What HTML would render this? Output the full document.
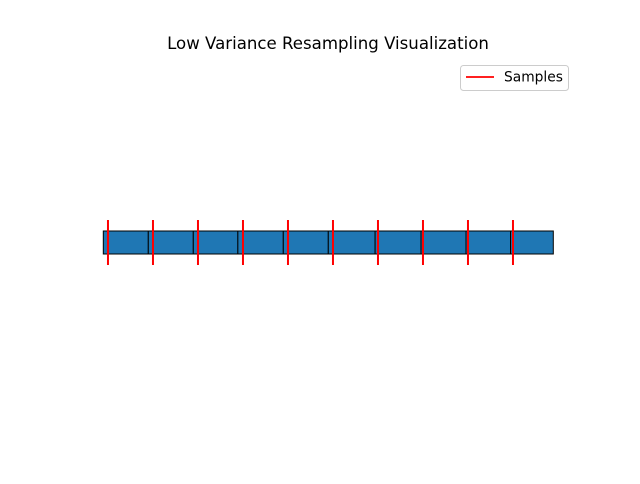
<!DOCTYPE html>
<html><head><meta charset="utf-8"><style>
body{margin:0;background:#fff;font-family:"DejaVu Sans","Liberation Sans",sans-serif}
</style></head><body>
<svg id="chart" width="640" height="480">
<text x="328" y="49" text-anchor="middle" font-size="16.6" fill="#000">Low Variance Resampling Visualization</text>
<g id="bars"></g><g id="samples"></g>
<g>
<rect x="460.5" y="65.5" width="108" height="25" rx="3" fill="#fff" stroke="#ccc"/>
<line x1="466" y1="77" x2="494" y2="77" stroke="red" stroke-width="1.8"/>
<text x="504" y="81.5" font-size="13.8" fill="#000">Samples</text>
</g>
</svg>
<script>
const weights=[0.100,0.100,0.099,0.101,0.100,0.104,0.102,0.100,0.099,0.095];
const sampleStart=0.0104;
const sampleCount=10;
const X0=103.3,X1=553.3;
const total=weights.reduce((a,b)=>a+b,0);
const sx=v=>X0+(v/total)*(X1-X0);
const ns="http://www.w3.org/2000/svg";
const bars=document.getElementById('bars');
let acc=0;
weights.forEach((w,i)=>{
 const r=document.createElementNS(ns,'rect');
 r.setAttribute('x',sx(acc));r.setAttribute('y',231);
 r.setAttribute('width',sx(acc+w)-sx(acc));r.setAttribute('height',23);
 r.setAttribute('fill','#1f77b4');r.setAttribute('stroke','#000');r.setAttribute('stroke-width','1');
 
 
 bars.appendChild(r);acc+=w;
});
const sm=document.getElementById('samples');
for(let i=0;i<sampleCount;i++){
 const x=sx((sampleStart+i/sampleCount)*total);
 const l=document.createElementNS(ns,'line');
 l.setAttribute('x1',x);l.setAttribute('x2',x);l.setAttribute('y1',220);l.setAttribute('y2',265);
 l.setAttribute('stroke','red');l.setAttribute('stroke-width','2');
 
 
 sm.appendChild(l);
}
</script>
</body></html>
